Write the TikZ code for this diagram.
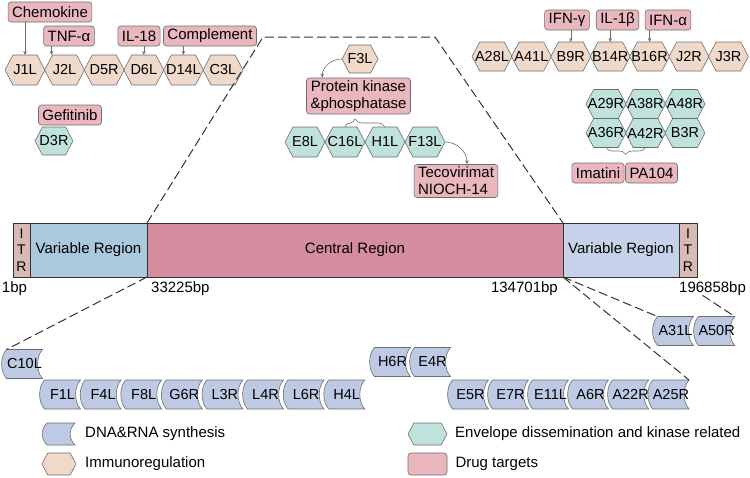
\documentclass[tikz,border=0pt]{standalone}
\usepackage{fontspec}
\setmainfont{Liberation Sans}
\usetikzlibrary{positioning,calc,shapes.symbols,arrows.meta,decorations.pathreplacing,backgrounds}
\definecolor{immune}{HTML}{EFD9CB}
\definecolor{envel}{HTML}{BFE3DC}
\definecolor{drug}{HTML}{E9B7BD}
\definecolor{dnasyn}{HTML}{BECAE3}
\definecolor{itrcol}{HTML}{D9B9B3}
\definecolor{varl}{HTML}{AAC9DE}
\definecolor{centr}{HTML}{D58C9F}
\definecolor{varr}{HTML}{C6D2E9}
\definecolor{edge}{HTML}{6E6E6E}

\begin{document}
\begin{tikzpicture}[x=1pt,y=1pt,font=\fontsize{15}{17}\selectfont,
    every label/.style={font=\fontsize{14.5}{16}\selectfont,inner sep=0pt},
    hexa/.style={draw=edge,line width=0.6pt,signal,signal to=east and west,signal pointer angle=124,inner sep=0pt,outer sep=0pt,minimum width=40pt,minimum height=30pt},
    imm/.style={hexa,fill=immune},
    env/.style={hexa,fill=envel},
    dna/.style={inner sep=0pt,outer sep=0pt,minimum width=36pt,minimum height=29pt,font=\fontsize{14.5}{16}\selectfont},
    drugbox/.style={draw=edge,line width=0.6pt,fill=drug,rounded corners=3pt,inner xsep=4pt,inner ysep=2.5pt,minimum height=20pt},
    arr/.style={draw=edge,line width=0.6pt,-{Stealth[length=4pt,width=3.5pt]}},
    zoom/.style={draw=black!80,line width=1pt,dash pattern=on 9pt off 4pt},
    region/.style={draw=black!80,line width=1pt,minimum height=54pt,inner sep=0pt,outer sep=0pt}]
    \useasboundingbox (0,0) rectangle (750,-477);

    % genome bar
    \node[region,fill=itrcol,minimum width=17pt,align=center,font=\fontsize{14}{16.5}\selectfont] (itrL) at (21.5,-250) {I\\T\\R};
    \node[region,fill=varl,minimum width=117pt,right=0pt of itrL] (varL) {Variable Region};
    \node[region,fill=centr,minimum width=416pt,right=0pt of varL] (central) {Central Region};
    \node[region,fill=varr,minimum width=116pt,right=0pt of central] (varR) {Variable Region};
    \node[region,fill=itrcol,minimum width=18pt,right=0pt of varR,align=center,font=\fontsize{14}{16.5}\selectfont] (itrR) {I\\T\\R};

    \node[anchor=north,inner sep=0pt] (bp1) at (14.5,-281) {1bp};
    \node[anchor=north west,inner sep=0pt] (bp33225) at (151,-281) {33225bp};
    \node[anchor=north east,inner sep=0pt] (bp134701) at (558,-281) {134701bp};
    \node[anchor=north west,inner sep=0pt] (bp196858) at (679,-281) {196858bp};

    % immunoregulation, left
    \node[imm,label=center:J1L] (J1L) at (25,-70) {};
    \node[imm,label=center:J2L,right=-0.4pt of J1L] (J2L) {};
    \node[imm,label=center:D5R,right=-0.4pt of J2L] (D5R) {};
    \node[imm,label=center:D6L,right=-0.4pt of D5R] (D6L) {};
    \node[imm,label=center:D14L,right=-0.4pt of D6L] (D14L) {};
    \node[imm,label=center:C3L,right=-0.4pt of D14L] (C3L) {};

    \node[drugbox] (chemokine) at (50,-12) {Chemokine};
    \node[drugbox] (tnf) at (69,-36) {TNF-α};
    \node[drugbox] (il18) at (139,-36) {IL-18};
    \node[drugbox] (complement) at (210,-36) {Complement};
    \coordinate (tnfin) at ($(J2L.north)+(-13,0)$);
    \draw[arr] (J1L.north |- chemokine.south) -- (J1L.north);
    \draw[arr] (tnfin |- tnf.south) -- (tnfin);
    \draw[arr] (D6L.north |- il18.south) -- (D6L.north);
    \draw[arr] (D14L.north |- complement.south) -- (D14L.north);

    \node[drugbox] (gefitinib) at (70,-115) {Gefitinib};
    \node[env,minimum width=38pt,minimum height=28pt,label=center:D3R] (D3R) at (54,-141) {};

    % central region
    \node[imm,minimum width=36pt,minimum height=28pt,label=center:F3L] (F3L) at (360,-59) {};
    \node[drugbox,align=center] (protein) at (358.5,-96) {Protein kinase\\\&phosphatase};
    \node[env,label=center:E8L] (E8L) at (305,-142) {};
    \node[env,label=center:C16L,right=0pt of E8L] (C16L) {};
    \node[env,label=center:H1L,right=0pt of C16L] (H1L) {};
    \node[env,label=center:F13L,right=0pt of H1L] (F13L) {};
    \node[drugbox,align=left] (tecov) at (456,-181) {Tecovirimat\\NIOCH-14};
    \coordinate (protin) at ($(protein.north west)+(16,0)$);
    \coordinate (tecin) at ($(tecov.north)+(11,0)$);
    \draw[arr] (F3L.west) to[out=180,in=90] (protin);
    \draw[arr] (F13L.east) to[out=0,in=90] (tecin);
    \draw[draw=edge,line width=0.6pt,decorate,decoration={brace,amplitude=8pt,aspect=0.25}] (C16L.north) -- (H1L.north);

    % immunoregulation, right
    \node[imm,minimum height=29pt,label=center:A28L] (A28L) at (492,-56.5) {};
    \node[imm,minimum height=29pt,label=center:A41L,right=-0.6pt of A28L] (A41L) {};
    \node[imm,minimum height=29pt,label=center:B9R,right=-0.6pt of A41L] (B9R) {};
    \node[imm,minimum height=29pt,label=center:B14R,right=-0.6pt of B9R] (B14R) {};
    \node[imm,minimum height=29pt,label=center:B16R,right=-0.6pt of B14R] (B16R) {};
    \node[imm,minimum height=29pt,label=center:J2R,right=-0.6pt of B16R] (J2R) {};
    \node[imm,minimum height=29pt,label=center:J3R,right=-0.6pt of J2R] (J3R) {};

    \node[drugbox] (ifng) at (567,-20) {IFN-γ};
    \node[drugbox] (il1b) at (617.5,-20) {IL-1β};
    \node[drugbox] (ifna) at (668,-20) {IFN-α};
    \draw[arr] (B9R.north |- ifng.south) -- (B9R.north);
    \draw[arr] (B14R.north |- il1b.south) -- (B14R.north);
    \draw[arr] (B16R.north |- ifna.south) -- (B16R.north);

    % envelope group
    \node[env,minimum height=29pt,label=center:A29R] (A29R) at (606,-104) {};
    \node[env,minimum height=29pt,label=center:A38R,right=-0.5pt of A29R] (A38R) {};
    \node[env,minimum height=29pt,label=center:A48R,right=-0.5pt of A38R] (A48R) {};
    \node[env,minimum height=29pt,label=center:A36R,below=0pt of A29R] (A36R) {};
    \node[env,minimum height=29pt,label=center:A42R,below=0pt of A38R] (A42R) {};
    \node[env,minimum height=29pt,label=center:B3R,below=0pt of A48R] (B3R) {};
    \draw[draw=edge,line width=0.6pt,decorate,decoration={brace,amplitude=7pt}] (A42R.south) -- (A36R.south);
    \node[drugbox] (imatini) at (598,-173) {Imatini};
    \node[drugbox] (pa104) at (651.5,-173) {PA104};

    % DNA & RNA synthesis
    \node[dna] (C10L) at (24.5,-364) {C10L};
    \node[dna] (F1L) at (62.5,-394.5) {F1L};
    \node[dna,right=4.6pt of F1L] (F4L) {F4L};
    \node[dna,right=4.6pt of F4L] (F8L) {F8L};
    \node[dna,right=4.6pt of F8L] (G6R) {G6R};
    \node[dna,right=4.6pt of G6R] (L3R) {L3R};
    \node[dna,right=4.6pt of L3R] (L4R) {L4R};
    \node[dna,right=4.6pt of L4R] (L6R) {L6R};
    \node[dna,right=4.6pt of L6R] (H4L) {H4L};
    \node[dna] (H6R) at (392.5,-362) {H6R};
    \node[dna,right=4pt of H6R] (E4R) {E4R};
    \node[dna] (E5R) at (470.5,-394.5) {E5R};
    \node[dna,right=4pt of E5R] (E7R) {E7R};
    \node[dna,right=4pt of E7R] (E11L) {E11L};
    \node[dna,right=4pt of E11L] (A6R) {A6R};
    \node[dna,right=4pt of A6R] (A22R) {A22R};
    \node[dna,right=4pt of A22R] (A25R) {A25R};
    \node[dna] (A31L) at (675.5,-331) {A31L};
    \node[dna,right=5pt of A31L] (A50R) {A50R};

    % zoom lines
    \coordinate (zoomTL) at (263,-37);
    \coordinate (zoomTR) at (435,-37);
    \coordinate (bpout) at ($(bp196858.south)+(-10,0)$);
    \draw[zoom] (central.north west) -- (zoomTL) -- (zoomTR) -- (central.north east);
    \draw[zoom] (central.south west) -- (C10L.north west);
    \draw[zoom] (central.south east) -- (A31L.north west);
    \draw[zoom] (central.south east) -- (A25R.north east);
    \draw[zoom] (bpout) -- (A50R.north east);

    % legend
    \node[dna,minimum width=28pt,minimum height=22pt] (legdna) at (61,-434) {};
    \node[inner sep=0pt,right=10pt of legdna] (legdnatxt) {DNA\&RNA synthesis};
    \node[imm,minimum width=34pt,minimum height=22pt] (legimm) at (59,-464) {};
    \node[inner sep=0pt,right=9pt of legimm] (legimmtxt) {Immunoregulation};
    \node[env,minimum width=39pt,minimum height=22pt] (legenv) at (427.5,-434) {};
    \node[inner sep=0pt,right=8pt of legenv] (legenvtxt) {Envelope dissemination and kinase related};
    \node[drugbox,inner sep=0pt,minimum width=39pt,minimum height=22pt] (legdrug) at (427.5,-464) {};
    \node[inner sep=0pt,right=8pt of legdrug] (legdrugtxt) {Drug targets};

    \begin{scope}[on background layer]
        \foreach \g in {C10L,F1L,F4L,F8L,G6R,L3R,L4R,L6R,H4L,H6R,E4R,E5R,E7R,E11L,A6R,A22R,A25R,A31L,A50R,legdna}
            \draw[draw=edge,line width=0.6pt,fill=dnasyn] (\g.north west) .. controls +(-6.5,-7) and +(-6.5,7) .. (\g.south west) -- (\g.south east) .. controls +(-6.5,7) and +(-6.5,-7) .. (\g.north east) -- cycle;
    \end{scope}
\end{tikzpicture}
\end{document}
